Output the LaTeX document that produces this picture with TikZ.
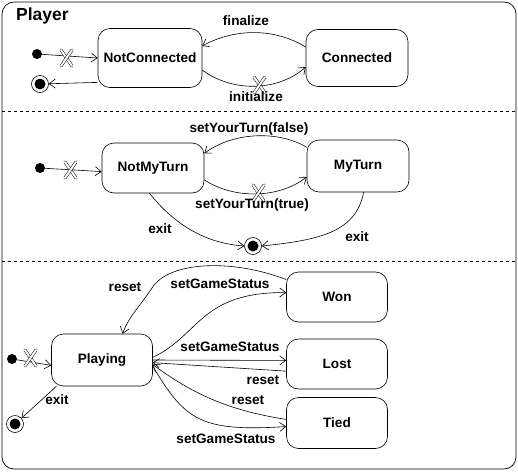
\documentclass[tikz,border=0pt]{standalone}
\usepackage{fontspec}
\setmainfont{Liberation Sans}
\usetikzlibrary{arrows.meta}
\begin{document}
\begin{tikzpicture}[x=1pt,y=-1pt,
  txt/.style={font=\bfseries\fontsize{13.6}{15}\selectfont},
  state/.style={draw, line width=0.6pt, rounded corners=12pt, txt, inner sep=0pt},
  lbl/.style={txt, inner sep=0pt},
  init/.style={circle, fill=black, minimum size=10pt, inner sep=0pt},
  final/.style={circle, draw, line width=0.6pt, minimum size=17pt, inner sep=0pt,
    path picture={\fill (path picture bounding box.center) circle (5.5pt);}},
  tr/.style={-{Straight Barb[length=6pt,width=9pt]}, line width=0.6pt},
  xm/.style={line width=0.5pt, double=white, double distance=2pt, line cap=round},
  sep/.style={dashed, dash pattern=on 3pt off 3pt, line width=0.6pt}]
\newcommand\xmk[1]{\begin{scope}[shift={#1}]\draw[xm] (-5,-8) -- (6,8); \draw[xm] (6,-8) -- (-5,8);\end{scope}}
\useasboundingbox (0,0) rectangle (518,471);
\fill[white] (0,0) rectangle (518,471);
\draw[line width=0.7pt, rounded corners=12pt] (2,2) rectangle (516,469);
\node[txt, font=\bfseries\fontsize{17.5}{19}\selectfont, anchor=west, inner sep=0pt] (title) at (16,16) {Player};
\draw[sep] (2,111.5) -- (516,111.5);
\draw[sep] (2,261) -- (516,261);

% section 1
\node[init] (i1) at (37,54) {};
\node[final] (f1) at (40,84) {};
\node[state, minimum width=104pt, minimum height=59pt] (nc) at (150,58) {NotConnected};
\node[state, minimum width=102pt, minimum height=57pt] (c) at (357,58) {Connected};
\draw[tr] (i1) -- (nc.west);
\xmk{(66,58)}
\draw[tr] (nc.205) -- (f1);
\draw[tr] (c.168) .. controls (275,28) and (235,28) .. (nc.13);
\node[lbl] (lfin) at (246,21) {finalize};
\draw[tr] (nc.-13) .. controls (235,94) and (280,90) .. (c.190);
\xmk{(259,85)}
\node[lbl] (linit) at (256,97) {initialize};

% section 2
\node[init] (i2) at (40,168) {};
\node[state, minimum width=102pt, minimum height=50pt] (nmt) at (153,168) {NotMyTurn};
\node[state, minimum width=102pt, minimum height=52pt] (mt) at (358,166) {MyTurn};
\node[final] (f2) at (253,246) {};
\draw[tr] (i2) -- (nmt.184);
\xmk{(70,170)}
\draw[tr] (mt.160) .. controls (280,131) and (235,131) .. (nmt.16);
\node[lbl] (lfalse) at (249,129) {setYourTurn(false)};
\draw[tr] (nmt.-13) .. controls (235,200) and (280,198) .. (mt.192);
\xmk{(258,193)}
\node[lbl] (ltrue) at (252,205) {setYourTurn(true)};
\draw[tr] (nmt.262) .. controls (175,225) and (205,243) .. (f2.west);
\node[lbl] (lexit1) at (160,229) {exit};
\draw[tr] (mt.-78) .. controls (356,232) and (320,240) .. (f2.east);
\node[lbl] (lexit2) at (357,237) {exit};

% section 3
\node[circle, fill=black, minimum width=8pt, minimum height=10pt, inner sep=0pt] (i3) at (12,359) {};
\node[state, minimum width=101pt, minimum height=52pt] (pl) at (102,360) {Playing};
\node[state, minimum width=101pt, minimum height=50pt] (won) at (337,297) {Won};
\node[state, minimum width=101pt, minimum height=50pt] (lost) at (337,364) {Lost};
\node[state, minimum width=101pt, minimum height=51pt] (tied) at (337,423) {Tied};
\node[final] (f3) at (15,424) {};
\draw[tr] (i3) -- (pl.186);
\xmk{(30,358)}
\draw[tr] (pl.210) -- (f3);
\node[lbl] (lexit3) at (57,400) {exit};
\draw[tr] (won.161) .. controls (230,258) and (168,262) .. (152,288) .. controls (140,306) and (128,318) .. (pl.52);
\node[lbl] (lreset1) at (125,287) {reset};
\draw[tr] (pl.3) .. controls (200,335) and (200,292) .. (won.175);
\node[lbl] (lsgs1) at (220,284) {setGameStatus};
\draw[tr] (pl.east) -- (lost.176);
\node[lbl] (lsgs2) at (230,347) {setGameStatus};
\draw[tr] (lost.188) -- (pl.-3);
\node[lbl] (lreset2) at (263,380) {reset};
\draw[tr] (tied.176) .. controls (240,412) and (200,400) .. (pl.-5);
\node[lbl] (lreset3) at (248,400) {reset};
\draw[tr] (pl.-7) .. controls (185,420) and (200,432) .. (tied.184);
\node[lbl] (lsgs3) at (226,439) {setGameStatus};
\end{tikzpicture}
\end{document}
